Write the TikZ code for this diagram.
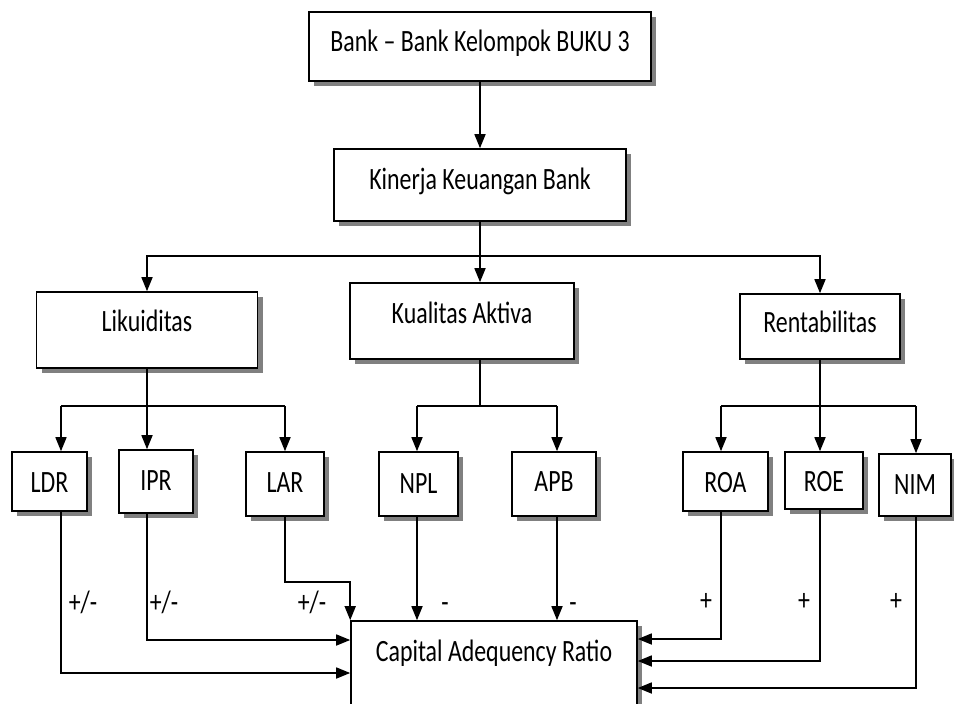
\documentclass[tikz,border=0pt]{standalone}
\usepackage{fontspec}
\setmainfont{Carlito}
\newfontfamily\tallfont[FakeStretch=0.77, Ligatures=TeX]{Carlito}
\usetikzlibrary{positioning, arrows.meta, shadows}

\begin{document}
\begin{tikzpicture}[
    x=1pt, y=-1pt,
    >={Triangle[width=11pt,length=14pt]},
    box/.style={
        draw, line width=1.6pt, fill=white,
        drop shadow={shadow xshift=5pt, shadow yshift=-5pt, fill=black!50, opacity=1},
        font=\tallfont\fontsize{31}{36}\selectfont, inner sep=0pt,
        text height=22pt, text depth=0pt
    },
    link/.style={line width=1.6pt},
    arr/.style={->, line width=1.6pt},
    lbl/.style={font=\tallfont\fontsize{31}{36}\selectfont, anchor=base, inner sep=0pt},
]
\path[fill=white, use as bounding box] (0,0) rectangle (954,704);

% Top: bank group and financial performance
\node[box, minimum width=342pt, minimum height=69pt, text depth=13pt] (bank) at (480, 46.5) {Bank \textendash{} Bank Kelompok BUKU 3};
\node[box, minimum width=292pt, minimum height=72pt, text depth=14pt] (kinerja) at (480, 185) {Kinerja Keuangan Bank};

% Middle row: the three aspects
\node[box, minimum width=221pt, minimum height=76pt, text depth=19pt] (likuid) at (147, 330) {Likuiditas};
\node[box, minimum width=224pt, minimum height=76pt, text depth=18pt] (kualitas) at (462, 321) {Kualitas Aktiva};
\node[box, minimum width=160pt, minimum height=65pt, text depth=11pt] (rentab) at (820, 326.5) {Rentabilitas};

% Ratio row
\node[box, minimum width=75pt, minimum height=59pt] (ldr) at (49.5, 481.5) {LDR};
\node[box, minimum width=74pt, minimum height=63pt, text depth=5pt] (ipr) at (156, 481.5) {IPR};
\node[box, minimum width=78pt, minimum height=64pt, text depth=5pt] (lar) at (285, 484) {LAR};
\node[box, minimum width=79pt, minimum height=64pt, text depth=4pt] (npl) at (418.5, 484) {NPL};
\node[box, minimum width=84pt, minimum height=64pt, text depth=7pt] (apb) at (554, 484) {APB};
\node[box, minimum width=85pt, minimum height=59pt, text depth=1pt] (roa) at (725.5, 481.5) {ROA};
\node[box, minimum width=78pt, minimum height=57pt] (roe) at (824, 480.5) {ROE};
\node[box, minimum width=72pt, minimum height=62pt, text depth=4pt] (nim) at (915, 485) {NIM};

% Bottom: dependent variable
\node[box, minimum width=286pt, minimum height=91pt, text depth=33pt] (car) at (494, 666.5) {Capital Adequency Ratio};

% Branch points
\coordinate (kSplit) at (480, 256);
\coordinate (lSplit) at (147, 406);
\coordinate (cLDR) at (61, 406);
\coordinate (cLAR) at (285, 406);
\coordinate (qSplit) at (480, 406);
\coordinate (cNPL) at (417, 406);
\coordinate (cAPB) at (557, 406);
\coordinate (rSplit) at (820, 406);
\coordinate (cROA) at (721, 406);
\coordinate (cNIM) at (916, 406);

% Top chain
\draw[arr] (bank) -- (kinerja);
\draw[link] (kinerja) -- (kSplit);
\draw[arr] (kSplit) -| (likuid.north);
\draw[arr] (kSplit) -- (kSplit |- kualitas.north);
\draw[arr] (kSplit) -| (rentab.north);

% Likuiditas to its ratios
\draw[link] (likuid) -- (lSplit);
\draw[link] (cLDR) -- (cLAR);
\draw[arr] (cLDR) -- (cLDR |- ldr.north);
\draw[arr] (lSplit) -- (lSplit |- ipr.north);
\draw[arr] (cLAR) -- (cLAR |- lar.north);

% Kualitas Aktiva to its ratios
\draw[link] (qSplit |- kualitas.south) -- (qSplit);
\draw[link] (cNPL) -- (cAPB);
\draw[arr] (cNPL) -- (cNPL |- npl.north);
\draw[arr] (cAPB) -- (cAPB |- apb.north);

% Rentabilitas to its ratios
\draw[link] (rSplit |- rentab.south) -- (rSplit);
\draw[link] (cROA) -- (cNIM);
\draw[arr] (cROA) -- (cROA |- roa.north);
\draw[arr] (rSplit) -- (rSplit |- roe.north);
\draw[arr] (cNIM) -- (cNIM |- nim.north);

% Ratios into CAR (left side)
\draw[arr] (cLDR |- ldr.south) |- ([yshift=-6.5pt]car.west);
\draw[arr] (lSplit |- ipr.south) |- ([yshift=26.5pt]car.west);
\draw[arr] (cLAR |- lar.south) -- ++(0, 65) -| (car.north west);

% Ratios into CAR (top)
\draw[arr] (cNPL |- npl.south) -- (cNPL |- car.north);
\draw[arr] (cAPB |- apb.south) -- (cAPB |- car.north);

% Ratios into CAR (right side)
\draw[arr] (cROA |- roa.south) |- ([yshift=27.5pt]car.east);
\draw[arr] (rSplit |- roe.south) |- ([yshift=5.5pt]car.east);
\draw[arr] (cNIM |- nim.south) |- ([yshift=-21.5pt]car.east);

% Signs
\node[lbl] (pmLDR) at (83, 612) {+/-};
\node[lbl] (pmIPR) at (164, 612) {+/-};
\node[lbl] (pmLAR) at (312, 612) {+/-};
\node[lbl] (mNPL) at (445, 612) {-};
\node[lbl] (mAPB) at (573, 612) {-};
\node[lbl] (pROA) at (706, 610) {+};
\node[lbl] (pROE) at (804, 610) {+};
\node[lbl] (pNIM) at (896, 610) {+};

\end{tikzpicture}
\end{document}
